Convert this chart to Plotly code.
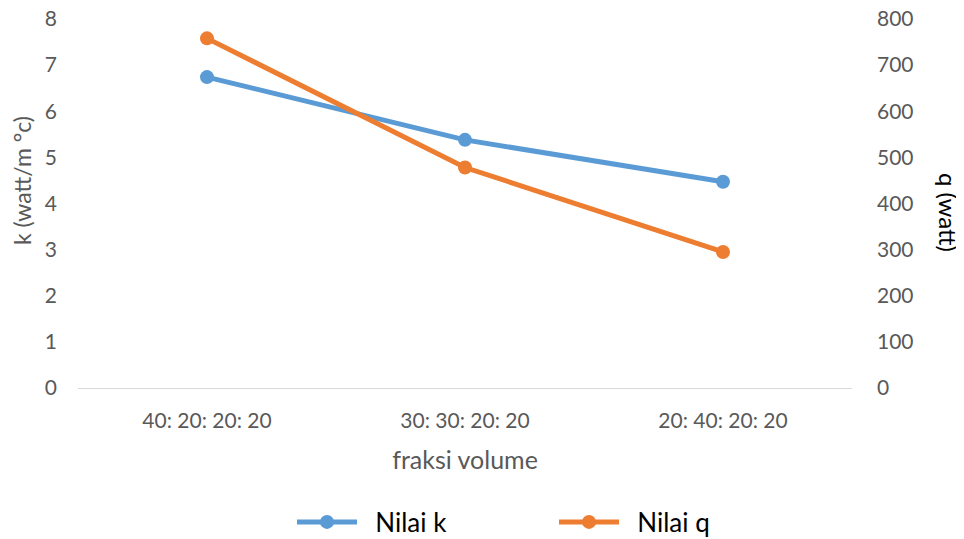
import plotly.graph_objects as go

categories = ["40: 20: 20: 20", "30: 30: 20: 20", "20: 40: 20: 20"]
nilai_k = [6.74, 5.38, 4.47]
nilai_q = [758, 478, 295]
k_ticks = [0, 1, 2, 3, 4, 5, 6, 7, 8]
q_ticks = [0, 100, 200, 300, 400, 500, 600, 700, 800]

FONT = "Lato, Calibri, Carlito, sans-serif"
TICK = "#595959"
BLUE = "#5B9BD5"
ORANGE = "#ED7D31"
PAD = "\u00a0\u00a0"

# page has an 8px body margin; plot area in page px: x 78..852, y 19..388
fig = go.Figure()
fig.add_trace(go.Scatter(
    x=categories, y=nilai_k, name=PAD + "Nilai k", mode="lines+markers",
    line=dict(color=BLUE, width=5), marker=dict(color=BLUE, size=14),
    yaxis="y",
))
fig.add_trace(go.Scatter(
    x=categories, y=nilai_q, name=PAD + "Nilai q", mode="lines+markers",
    line=dict(color=ORANGE, width=5), marker=dict(color=ORANGE, size=14),
    yaxis="y2",
))

fig.update_layout(
    width=956, height=531,
    margin=dict(l=70, r=112, t=11, b=151, autoexpand=False),
    paper_bgcolor="white", plot_bgcolor="white",
    font=dict(family=FONT, color=TICK, size=20),
    showlegend=True,
    legend=dict(orientation="h", x=(292 - 78) / 774, xanchor="left", xref="paper",
                y=-(522 - 388) / 369, yanchor="middle",
                font=dict(size=26, color="#000000"),
                itemwidth=60, entrywidth=187),
    xaxis=dict(type="category", range=[-0.5, 2.5], showgrid=False, automargin=False,
               showline=True, linecolor="#D9D9D9", linewidth=1,
               ticks="", tickfont=dict(size=21, color=TICK),
               ticklabelstandoff=14,
               title=dict(text="fraksi volume", font=dict(size=25, color=TICK), standoff=20)),
    yaxis=dict(range=[0, 8], tickvals=k_ticks, showgrid=False, zeroline=False, automargin=False,
               showline=False, ticks="", tickfont=dict(size=21, color=TICK),
               ticklabelstandoff=20, ticklabeloverflow="allow"),
    yaxis2=dict(range=[0, 800], tickvals=q_ticks, overlaying="y", side="right", automargin=False,
                showgrid=False, zeroline=False, showline=False, ticks="",
                tickfont=dict(size=21, color=TICK), ticklabelstandoff=24,
                ticklabeloverflow="allow"),
    annotations=[
        dict(text="k (watt/m \u00b0c)", xref="paper", yref="paper",
             x=(22 - 78) / 774, y=(388 - 181) / 369, textangle=-90,
             showarrow=False, xanchor="center", yanchor="middle",
             font=dict(size=23, color=TICK)),
        dict(text="q (watt)", xref="paper", yref="paper",
             x=(949 - 78) / 774, y=(388 - 212) / 369, textangle=90,
             showarrow=False, xanchor="center", yanchor="middle",
             font=dict(size=24, color="#000000")),
    ],
)

fig.write_html("out.html")
